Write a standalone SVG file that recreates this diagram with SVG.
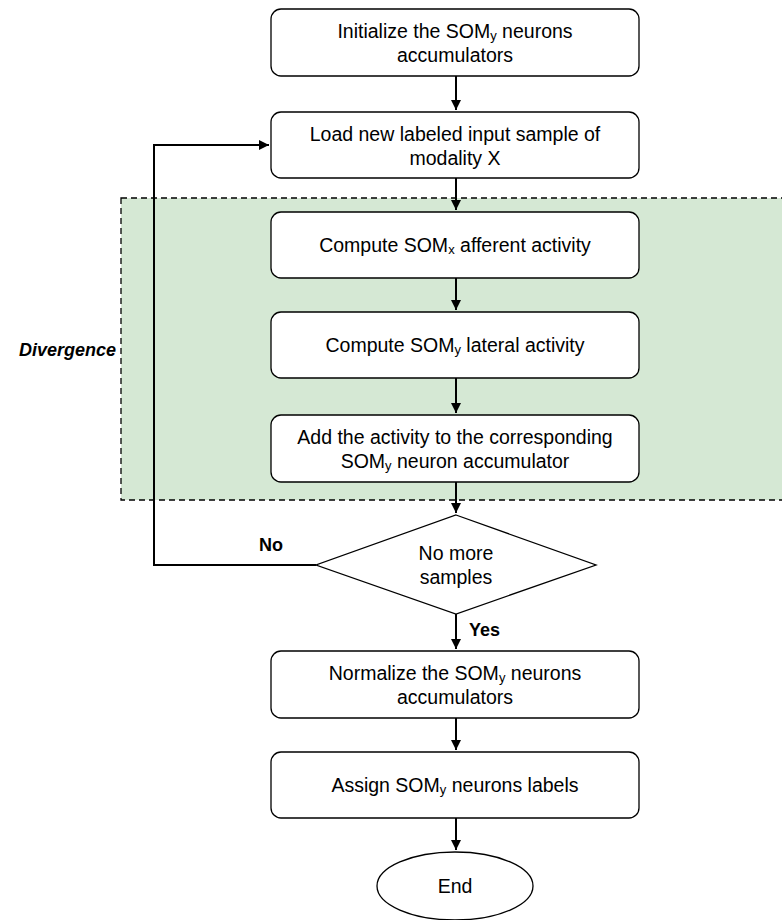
<svg xmlns="http://www.w3.org/2000/svg" width="782" height="920" viewBox="0 0 782 920">
<style>
.box{fill:#fff;stroke:#000;stroke-width:1.3}
.t{font-family:"Liberation Sans",Arial,sans-serif;font-size:19.5px;fill:#000;text-anchor:middle}
.s{font-size:13px}
.c{fill:none;stroke:#000;stroke-width:2}
.lbl{font-family:"Liberation Sans",Arial,sans-serif;font-size:18px;font-weight:bold;fill:#000}
</style>
<defs>
<marker id="ah" markerWidth="10" markerHeight="10" refX="10" refY="5" orient="auto" markerUnits="userSpaceOnUse">
<path d="M0,0 L10,5 L0,10 Z" fill="#000"/>
</marker>
</defs>
<rect width="782" height="920" fill="#fff"/>
<g id="divergence">
<rect x="121" y="198" width="671" height="302" fill="#d5e8d4" stroke="#000" stroke-width="1.3" stroke-dasharray="6,4"/>
<text class="lbl" x="116" y="356" text-anchor="end" font-style="italic" font-size="20.5px">Divergence</text>
</g>
<g id="n1"><rect class="box" x="271" y="9" width="368" height="67" rx="10"/>
<text class="t" x="455" y="38">Initialize the SOM<tspan class="s" dy="2">y</tspan><tspan dy="-2"> neurons</tspan></text>
<text class="t" x="455" y="62">accumulators</text></g>
<g id="n2"><rect class="box" x="271" y="112" width="368" height="66" rx="10"/>
<text class="t" x="455" y="141">Load new labeled input sample of</text>
<text class="t" x="455" y="165">modality X</text></g>
<g id="n3"><rect class="box" x="271" y="212" width="368" height="66" rx="10"/>
<text class="t" x="455" y="252">Compute SOM<tspan class="s" dy="2">x</tspan><tspan dy="-2"> afferent activity</tspan></text></g>
<g id="n4"><rect class="box" x="271" y="312" width="368" height="66" rx="10"/>
<text class="t" x="455" y="352">Compute SOM<tspan class="s" dy="2">y</tspan><tspan dy="-2"> lateral activity</tspan></text></g>
<g id="n5"><rect class="box" x="271" y="415" width="368" height="67" rx="10"/>
<text class="t" x="455" y="444">Add the activity to the corresponding</text>
<text class="t" x="455" y="468">SOM<tspan class="s" dy="2">y</tspan><tspan dy="-2"> neuron accumulator</tspan></text></g>
<g id="d1"><polygon class="box" points="456,515 596,565 456,614 316,565"/>
<text class="t" x="456" y="560">No more</text>
<text class="t" x="456" y="584">samples</text></g>
<g id="n6"><rect class="box" x="271" y="651" width="368" height="67" rx="10"/>
<text class="t" x="455" y="680">Normalize the SOM<tspan class="s" dy="2">y</tspan><tspan dy="-2"> neurons</tspan></text>
<text class="t" x="455" y="704">accumulators</text></g>
<g id="n7"><rect class="box" x="271" y="752" width="368" height="66" rx="10"/>
<text class="t" x="455" y="792">Assign SOM<tspan class="s" dy="2">y</tspan><tspan dy="-2"> neurons labels</tspan></text></g>
<g id="end"><ellipse class="box" cx="455" cy="886" rx="78" ry="34"/>
<text class="t" x="455" y="893">End</text></g>
<g id="connectors">
<line class="c" x1="456" y1="76" x2="456" y2="110" marker-end="url(#ah)"/>
<line class="c" x1="456" y1="178" x2="456" y2="210" marker-end="url(#ah)"/>
<line class="c" x1="456" y1="278" x2="456" y2="310" marker-end="url(#ah)"/>
<line class="c" x1="456" y1="378" x2="456" y2="413" marker-end="url(#ah)"/>
<line class="c" x1="456" y1="482" x2="456" y2="513" marker-end="url(#ah)"/>
<polyline class="c" points="316,565 154,565 154,145 269,145" marker-end="url(#ah)"/>
<line class="c" x1="456" y1="614" x2="456" y2="649" marker-end="url(#ah)"/>
<line class="c" x1="456" y1="718" x2="456" y2="750" marker-end="url(#ah)"/>
<line class="c" x1="456" y1="818" x2="456" y2="850" marker-end="url(#ah)"/>
<text class="lbl" x="259" y="551">No</text>
<text class="lbl" x="469" y="636">Yes</text>
</g>
</svg>
